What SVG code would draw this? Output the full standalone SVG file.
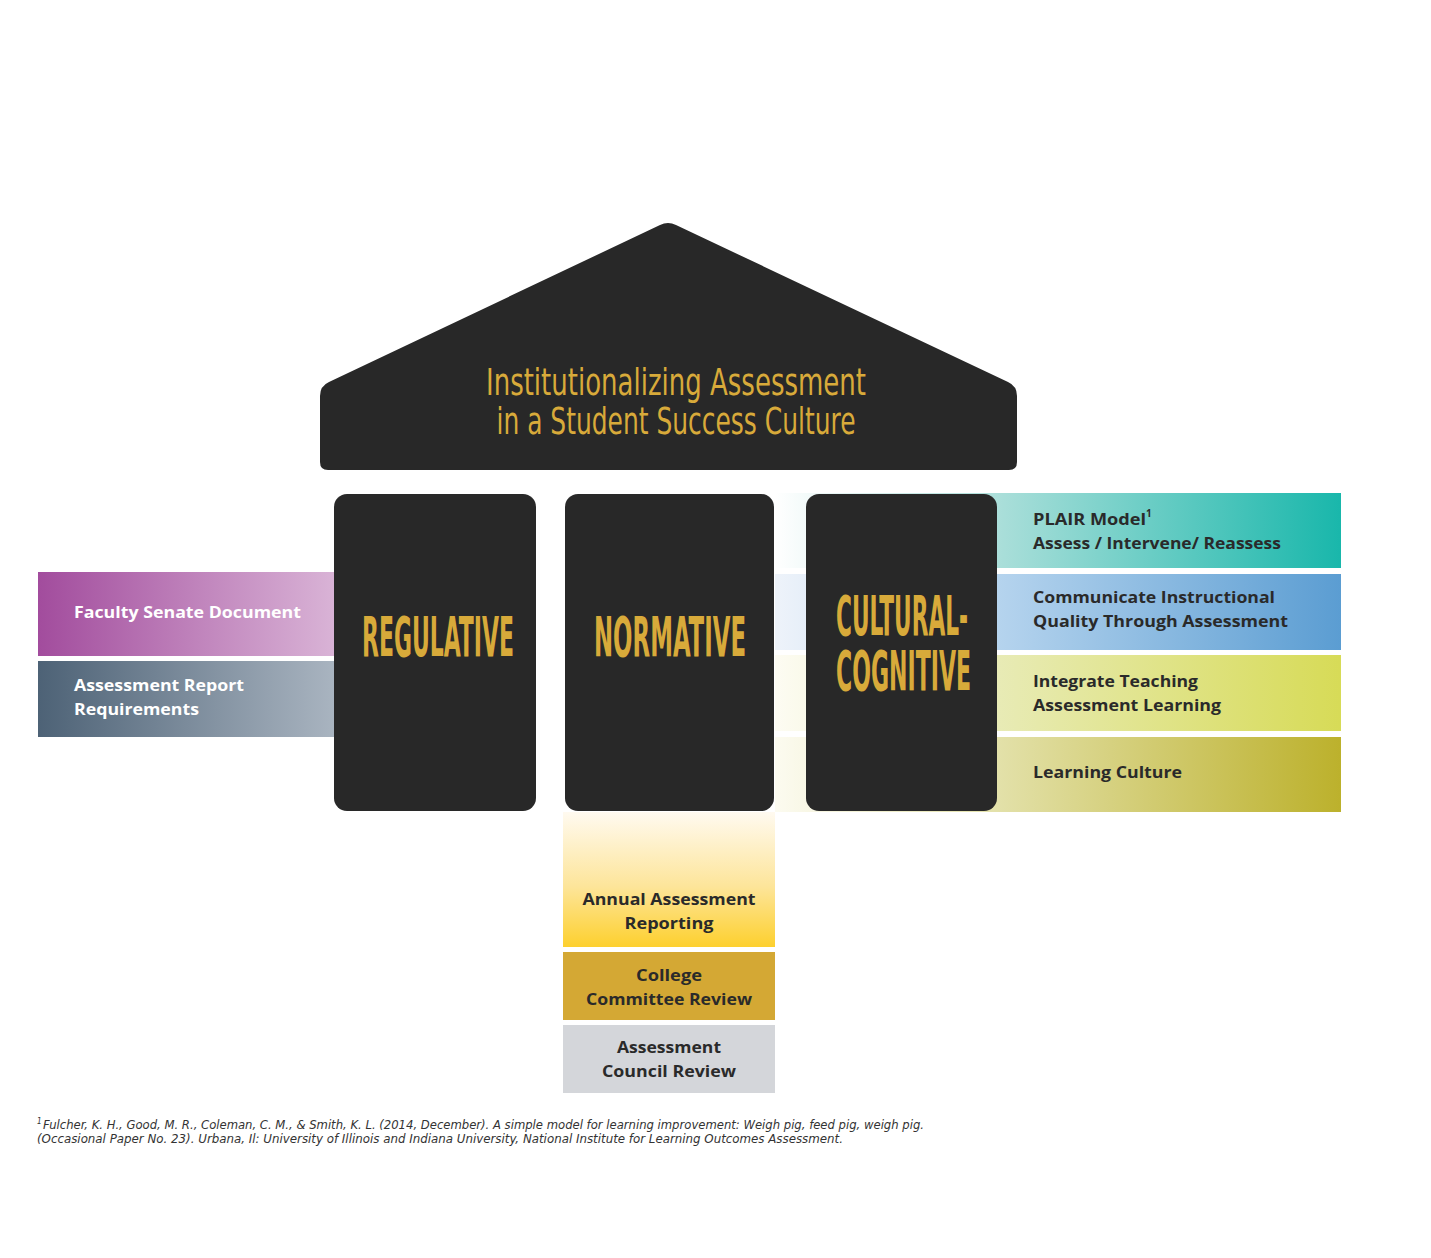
<svg xmlns="http://www.w3.org/2000/svg" width="1431" height="1258" viewBox="0 0 1431 1258">
<defs>
<style>
.dark{fill:#282828}
.gold{fill:#d8aa3a}
.title{font-family:"Liberation Sans Narrow","DejaVu Sans Condensed","Liberation Sans",sans-serif;font-size:38px;text-anchor:middle}
.pillar{font-family:"DejaVu Sans Condensed","Liberation Sans Narrow",sans-serif;font-weight:bold;font-size:56px}
.lbl{font-family:"Open Sans","Liberation Sans",sans-serif;font-weight:bold;font-size:16px}
.w{fill:#ffffff}
.k{fill:#2a2a2a}
.mid{text-anchor:middle}
.foot{font-family:"Liberation Sans Narrow","DejaVu Sans Condensed",sans-serif;font-style:italic;font-size:12px;fill:#333333}
</style>
<linearGradient id="gFac" x1="0" y1="0" x2="1" y2="0">
<stop offset="0" stop-color="#a24c9d"/><stop offset="1" stop-color="#d9b3d6"/></linearGradient>
<linearGradient id="gRep" x1="0" y1="0" x2="1" y2="0">
<stop offset="0" stop-color="#4d6276"/><stop offset="1" stop-color="#a9b4c0"/></linearGradient>
<linearGradient id="gPl" x1="0" y1="0" x2="1" y2="0">
<stop offset="0" stop-color="#ffffff"/><stop offset="0.39" stop-color="#acdfda"/><stop offset="1" stop-color="#19b7ab"/></linearGradient>
<linearGradient id="gCo" x1="0" y1="0" x2="1" y2="0">
<stop offset="0" stop-color="#eef3fa"/><stop offset="0.39" stop-color="#b6d4ee"/><stop offset="1" stop-color="#5b9dd2"/></linearGradient>
<linearGradient id="gIn" x1="0" y1="0" x2="1" y2="0">
<stop offset="0" stop-color="#fdfcf3"/><stop offset="0.39" stop-color="#e8ebb6"/><stop offset="1" stop-color="#d7db57"/></linearGradient>
<linearGradient id="gLe" x1="0" y1="0" x2="1" y2="0">
<stop offset="0" stop-color="#fcfbf0"/><stop offset="0.39" stop-color="#e3e1aa"/><stop offset="1" stop-color="#bcb12c"/></linearGradient>
<linearGradient id="gAn" x1="0" y1="0" x2="0" y2="1">
<stop offset="0" stop-color="#fffaf0"/><stop offset="0.55" stop-color="#fde59a"/><stop offset="1" stop-color="#fdd02e"/></linearGradient>
</defs>
<rect width="1431" height="1258" fill="#ffffff"/>

<g id="roof">
<path class="dark" d="M320 396 Q320 386 329 382 L660 225 Q668 221 676 225 L1008 382 Q1017 386 1017 396 L1017 462 Q1017 470 1009 470 L328 470 Q320 470 320 462 Z"/>
<text class="title gold"><tspan x="676" y="395" textLength="380" lengthAdjust="spacingAndGlyphs">Institutionalizing Assessment</tspan><tspan x="676" y="434" textLength="359" lengthAdjust="spacingAndGlyphs">in a Student Success Culture</tspan></text>
</g>

<g id="right-bars">
<rect x="775" y="493" width="566" height="75" fill="url(#gPl)"/>
<rect x="775" y="574" width="566" height="76" fill="url(#gCo)"/>
<rect x="775" y="655" width="566" height="76" fill="url(#gIn)"/>
<rect x="775" y="737" width="566" height="75" fill="url(#gLe)"/>
</g>

<g id="faculty-senate">
<rect x="38" y="572" width="296" height="84" fill="url(#gFac)"/>
<text class="lbl w" x="74" y="618" textLength="227" lengthAdjust="spacingAndGlyphs">Faculty Senate Document</text>
</g>
<g id="assessment-report">
<rect x="38" y="661" width="296" height="76" fill="url(#gRep)"/>
<text class="lbl w"><tspan x="74" y="691" textLength="170" lengthAdjust="spacingAndGlyphs">Assessment Report</tspan><tspan x="74" y="715" textLength="125" lengthAdjust="spacingAndGlyphs">Requirements</tspan></text>
</g>

<g id="regulative">
<rect class="dark" x="334" y="494" width="202" height="317" rx="13"/>
<text class="pillar gold" x="362" y="656" textLength="152" lengthAdjust="spacingAndGlyphs">REGULATIVE</text>
</g>
<g id="normative">
<rect class="dark" x="565" y="494" width="209" height="317" rx="13"/>
<text class="pillar gold" x="594" y="656" textLength="152" lengthAdjust="spacingAndGlyphs">NORMATIVE</text>
</g>

<g id="annual-reporting">
<rect x="563" y="812" width="212" height="135" fill="url(#gAn)"/>
<text class="lbl k mid"><tspan x="669" y="905" textLength="173" lengthAdjust="spacingAndGlyphs">Annual Assessment</tspan><tspan x="669" y="929" textLength="89" lengthAdjust="spacingAndGlyphs">Reporting</tspan></text>
</g>
<g id="college-review">
<rect x="563" y="952" width="212" height="68" fill="#d4a834"/>
<text class="lbl k mid"><tspan x="669" y="981" textLength="66" lengthAdjust="spacingAndGlyphs">College</tspan><tspan x="669" y="1005" textLength="166" lengthAdjust="spacingAndGlyphs">Committee Review</tspan></text>
</g>
<g id="council-review">
<rect x="563" y="1025" width="212" height="68" fill="#d4d6da"/>
<text class="lbl k mid"><tspan x="669" y="1053" textLength="104" lengthAdjust="spacingAndGlyphs">Assessment</tspan><tspan x="669" y="1077" textLength="134" lengthAdjust="spacingAndGlyphs">Council Review</tspan></text>
</g>

<g id="cultural-cognitive">
<rect class="dark" x="806" y="494" width="191" height="317" rx="13"/>
<text class="pillar gold"><tspan x="836" y="635" textLength="132" lengthAdjust="spacingAndGlyphs">CULTURAL-</tspan><tspan x="836" y="690" textLength="135" lengthAdjust="spacingAndGlyphs">COGNITIVE</tspan></text>
</g>

<g id="plair">
<text class="lbl k"><tspan x="1033" y="525" textLength="113" lengthAdjust="spacingAndGlyphs">PLAIR Model</tspan><tspan x="1146" y="517" style="font-size:10px">1</tspan><tspan x="1033" y="549" textLength="248" lengthAdjust="spacingAndGlyphs">Assess / Intervene/ Reassess</tspan></text>
</g>
<g id="communicate">
<text class="lbl k"><tspan x="1033" y="603" textLength="242" lengthAdjust="spacingAndGlyphs">Communicate Instructional</tspan><tspan x="1033" y="627" textLength="255" lengthAdjust="spacingAndGlyphs">Quality Through Assessment</tspan></text>
</g>
<g id="integrate">
<text class="lbl k"><tspan x="1033" y="687" textLength="165" lengthAdjust="spacingAndGlyphs">Integrate Teaching</tspan><tspan x="1033" y="711" textLength="188" lengthAdjust="spacingAndGlyphs">Assessment Learning</tspan></text>
</g>
<g id="learning-culture">
<text class="lbl k" x="1033" y="778" textLength="149" lengthAdjust="spacingAndGlyphs">Learning Culture</text>
</g>

<g id="connectors"></g>

<g id="footnote">
<text class="foot"><tspan x="37" y="1124" style="font-size:8px">1</tspan><tspan x="43" y="1129" textLength="881" lengthAdjust="spacingAndGlyphs">Fulcher, K. H., Good, M. R., Coleman, C. M., &amp; Smith, K. L. (2014, December). A simple model for learning improvement: Weigh pig, feed pig, weigh pig.</tspan><tspan x="37" y="1143" textLength="806" lengthAdjust="spacingAndGlyphs">(Occasional Paper No. 23). Urbana, Il: University of Illinois and Indiana University, National Institute for Learning Outcomes Assessment.</tspan></text>
</g>
</svg>
